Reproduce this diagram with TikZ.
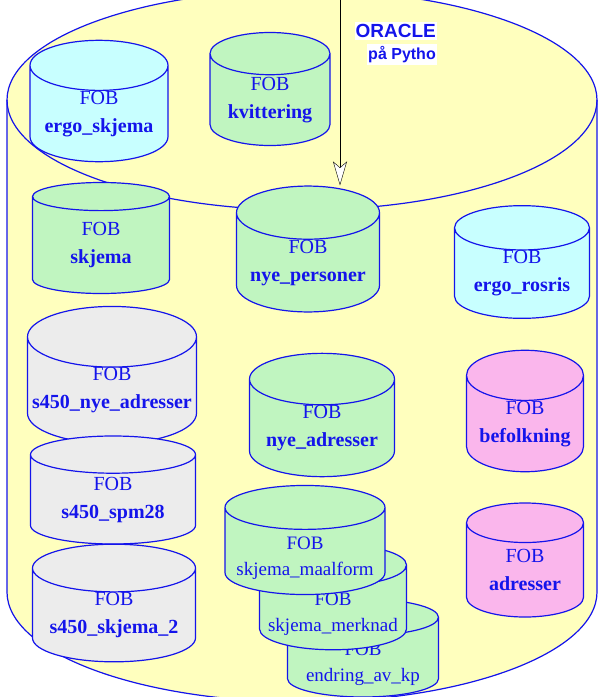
\documentclass[tikz,border=0pt]{standalone}
\usepackage{fontspec}
\setmainfont{Liberation Serif}
\newfontfamily\arialfont{Liberation Sans}
\usetikzlibrary{arrows.meta,shapes.geometric}
\definecolor{bgyellow}{RGB}{255,255,190}
\definecolor{dbcyan}{RGB}{200,255,255}
\definecolor{dbgreen}{RGB}{192,245,192}
\definecolor{dbgray}{RGB}{236,236,236}
\definecolor{dbpink}{RGB}{250,182,236}
\definecolor{dbblue}{RGB}{20,20,235}
\tikzset{
  fob/.style={cylinder,shape border rotate=90,aspect=0.46,anchor=shape center,draw=dbblue,
    line width=1.2pt,text=dbblue,align=center,inner sep=0pt,font=\fontsize{20}{28}\selectfont},
  fobsmall/.style={fob,aspect=0.32,fill=dbgreen,font=\fontsize{19}{26}\selectfont},
  oracle/.style={fill=white,text=dbblue,inner xsep=1pt,inner ysep=2pt,font=\arialfont\bfseries}
}
% lower a text line inside its cylinder
\newcommand{\lowtxt}[1]{\raisebox{-7pt}[\height][\depth]{#1}}

\begin{document}
\begin{tikzpicture}[x=1pt,y=-1pt]
\useasboundingbox (0,0) rectangle (605,697);
\clip (0,0) rectangle (605,697);
% the ORACLE base
\fill[bgyellow] (7,100) arc[start angle=180,end angle=360,x radius=295,y radius=110]
  -- (597,592) arc[start angle=0,end angle=180,x radius=295,y radius=110] -- cycle;
\draw[dbblue,line width=1.2pt] (7,100) arc[start angle=180,end angle=360,x radius=295,y radius=110]
  -- (597,592) arc[start angle=0,end angle=180,x radius=295,y radius=110] -- cycle;
\draw[dbblue,line width=1.2pt] (7,100) arc[start angle=180,end angle=0,x radius=295,y radius=110];
\node[oracle,anchor=north east,font=\arialfont\bfseries\fontsize{19}{22}\selectfont] (oracle) at (437,22) {ORACLE};
\node[oracle,anchor=north east,font=\arialfont\bfseries\fontsize{16}{19}\selectfont] (pytho) at ([yshift=-4pt]oracle.south east) {på Pytho};
% tables
\node[fob,fill=dbcyan,minimum width=138pt,minimum height=108pt] (ergoskjema) at (99,101) {FOB\\\textbf{ergo\_skjema}};
\node[fob,fill=dbgreen,minimum width=120pt,minimum height=113pt,aspect=0.5] (kvittering) at (270,89) {FOB\\\textbf{kvittering}};
\node[fob,fill=dbgreen,minimum width=137pt,minimum height=111pt] (skjema) at (101,238) {FOB\\\textbf{skjema}};
\node[fob,fill=dbgreen,minimum width=143pt,minimum height=112pt] (nyepers) at (308,249) {FOB\\\textbf{nye\_personer}};
\node[fob,fill=dbcyan,minimum width=135pt,minimum height=106pt] (ergorosris) at (522,262) {FOB\\\textbf{ergo\_rosris}};
\node[fob,fill=dbgray,minimum width=169pt,minimum height=110pt,aspect=0.38] (snyeadr) at (112,375) {FOB\\\textbf{s450\_nye\_adresser}};
\node[fob,fill=dbgreen,minimum width=145pt,minimum height=110pt] (nyeadr) at (322,415) {FOB\\\textbf{nye\_adresser}};
\node[fob,fill=dbpink,minimum width=117pt,minimum height=114pt,aspect=0.55] (befolkning) at (525,411) {FOB\\\textbf{befolkning}};
\node[fob,fill=dbgray,minimum width=165pt,minimum height=108pt,aspect=0.36] (sspm) at (113,490) {FOB\\\textbf{s450\_spm28}};
\node[fob,fill=dbgray,minimum width=163pt,minimum height=110pt,aspect=0.37] (sskjema) at (114,603) {FOB\\\textbf{s450\_skjema\_2}};
\node[fob,fill=dbpink,minimum width=117pt,minimum height=114pt,aspect=0.55] (adresser) at (525,560) {FOB\\\textbf{adresser}};
% stacked tables
\node[fobsmall,minimum width=151pt,minimum height=90pt] (endring) at (363,648) {\lowtxt{FOB}\\\lowtxt{endring\_av\_kp}};
\node[fobsmall,minimum width=147pt,minimum height=93pt] (merknad) at (333,597) {\lowtxt{FOB}\\\lowtxt{skjema\_merknad}};
\node[fobsmall,minimum width=160pt,minimum height=94pt] (maalform) at (305,540) {\lowtxt{FOB}\\\lowtxt{skjema\_maalform}};
% feed
\coordinate (feed) at (340,0);
\draw[-{Stealth[fill=white,length=24pt,width=14pt,inset=6pt]}] (feed) -- (feed |- nyepers.north);
\end{tikzpicture}
\end{document}
